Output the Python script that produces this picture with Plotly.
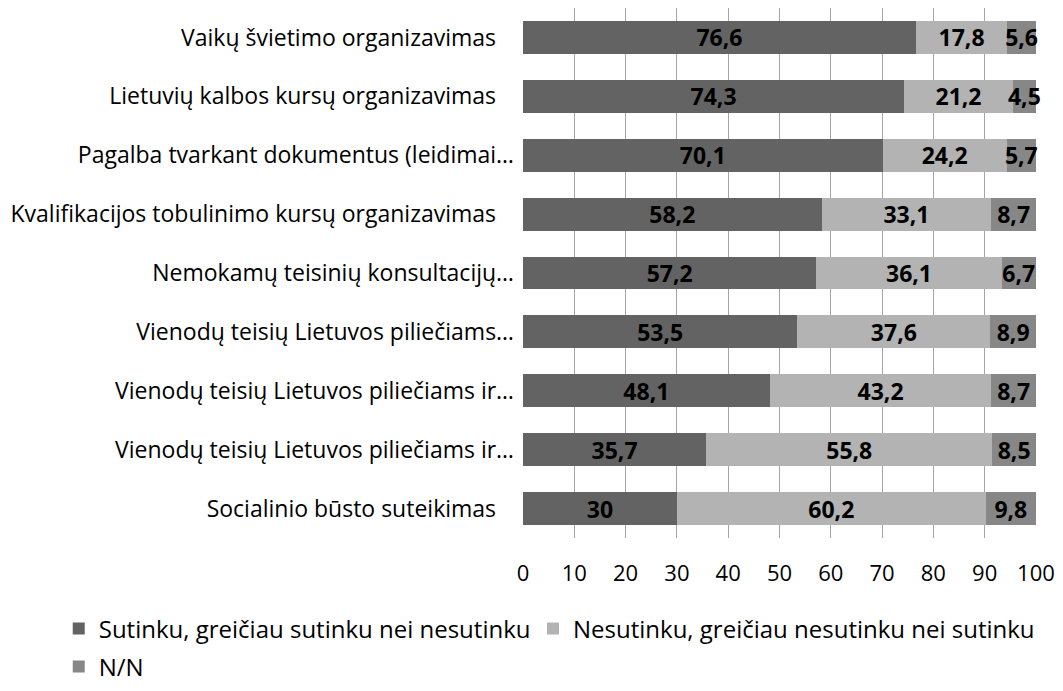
import plotly.graph_objects as go

SP = "\u00a0"
categories = [
    "Vaikų švietimo organizavimas" + SP * 3,
    "Lietuvių kalbos kursų organizavimas" + SP * 3,
    "Pagalba tvarkant dokumentus (leidimai…",
    "Kvalifikacijos tobulinimo kursų organizavimas" + SP * 3,
    "Nemokamų teisinių konsultacijų…",
    "Vienodų teisių Lietuvos piliečiams…",
    "Vienodų teisių Lietuvos piliečiams ir…",
    "Vienodų teisių Lietuvos piliečiams ir…",
    "Socialinio būsto suteikimas" + SP * 3,
]
agree = [76.6, 74.3, 70.1, 58.2, 57.2, 53.5, 48.1, 35.7, 30]
disagree = [17.8, 21.2, 24.2, 33.1, 36.1, 37.6, 43.2, 55.8, 60.2]
nn = [5.6, 4.5, 5.7, 8.7, 6.7, 8.9, 8.7, 8.5, 9.8]
series_names = ["Sutinku, greičiau sutinku nei nesutinku",
                "Nesutinku, greičiau nesutinku nei sutinku",
                "N/N"]
tick_vals = [0, 10, 20, 30, 40, 50, 60, 70, 80, 90, 100]

colors = ["#636363", "#b3b3b3", "#878787"]
legends = ["legend", "legend3", "legend2"]
FONT = "Open Sans"

def fmt(v):
    return ("%g" % v).replace(".", ",")

ypos = list(range(len(categories)))
fig = go.Figure()
for name, vals, col, lg in zip(series_names, [agree, disagree, nn], colors, legends):
    fig.add_trace(go.Bar(
        y=ypos, x=vals, name=name, orientation="h", legend=lg,
        marker=dict(color=col, line=dict(width=0)),
        text=[fmt(v) for v in vals], textposition="inside", textangle=0,
        insidetextanchor="middle", constraintext="none", cliponaxis=False,
        textfont=dict(family=FONT, size=23, color="#000000", weight="bold"),
        width=0.56,
    ))

legend_common = dict(orientation="h", xanchor="left", yanchor="middle",
                     font=dict(family=FONT, size=24, color="#000000"),
                     traceorder="normal", itemwidth=30, bgcolor="rgba(0,0,0,0)")
fig.update_layout(
    barmode="stack",
    width=1047, height=675,
    margin=dict(l=515, r=19, t=0, b=145, autoexpand=False),
    paper_bgcolor="white", plot_bgcolor="white",
    font=dict(family=FONT, size=23, color="#000000"),
    uniformtext=dict(mode="show", minsize=23),
    showlegend=True,
    legend=dict(x=-0.905, y=-0.1717, **legend_common),
    legend3=dict(x=0.0195, y=-0.1717, **legend_common),
    legend2=dict(x=-0.905, y=-0.2434, **legend_common),
)
fig.update_xaxes(range=[0, 100.01], tickvals=tick_vals, ticktext=[str(t) for t in tick_vals],
                 showgrid=True, gridcolor="#a6a6a6", gridwidth=1,
                 zeroline=False, showline=False, ticks="",
                 ticklabelstandoff=20,
                 tickfont=dict(family=FONT, size=22, color="#000000"), fixedrange=True)
fig.update_yaxes(range=[8.5, -0.5], tickvals=ypos, ticktext=categories,
                 showgrid=False, zeroline=False, showline=False, ticks="",
                 ticklabelstandoff=8,
                 tickfont=dict(family=FONT, size=23, color="#000000"))

fig.write_html("out.html")
